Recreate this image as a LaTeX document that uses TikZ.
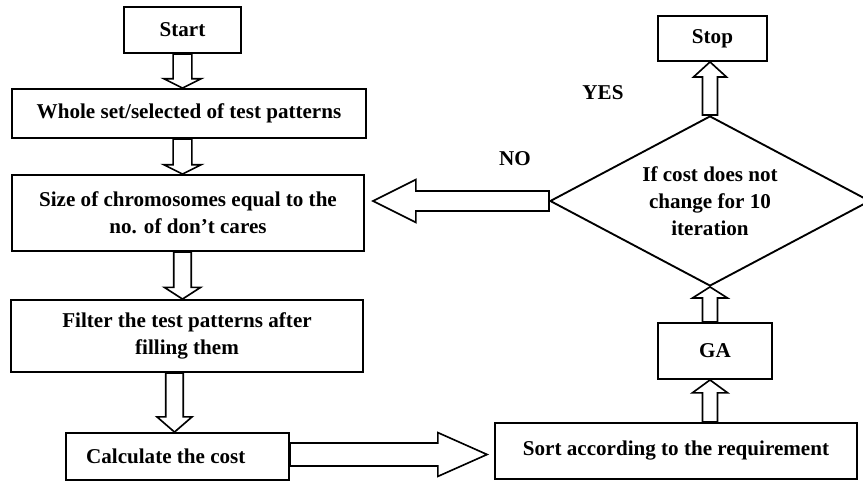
\documentclass[tikz,border=0pt]{standalone}
\usepackage{fontspec}
\setmainfont{Liberation Serif}
\usetikzlibrary{shapes.geometric,calc}

\providecommand{\px}{0.03cm}
\providecommand{\boxthickness}{1.6pt}
\providecommand{\arrowthickness}{1.4pt}

% hollow block arrow: tail, tip, stem half width, head half width, head length
\newcommand{\hollowarrow}[5]{%
  \coordinate (hb) at ($(#2)!#5!(#1)$);
  \draw[hollow_arrow] ($(#1)!#3!90:(#2)$) -- ($(hb)!#3!90:(#2)$)
    -- ($(hb)!#4!90:(#2)$) -- (#2) -- ($(hb)!#4!-90:(#2)$)
    -- ($(hb)!#3!-90:(#2)$) -- ($(#1)!#3!-90:(#2)$) -- cycle;
}

\begin{document}
\begin{tikzpicture}[
    x=\px, y=-\px,
    % Node styles
    process_box/.style={
        rectangle,
        draw=black,
        line width=\boxthickness,
        align=center,
        inner sep=0pt,
        font=\fontsize{18}{23}\selectfont\bfseries
    },
    decision/.style={
        diamond,
        aspect=1.9,
        draw=black,
        line width=\boxthickness,
        align=center,
        inner sep=0pt,
        minimum width={320*\px},
        minimum height={170*\px},
        font=\fontsize{18}{23}\selectfont\bfseries
    },
    % Arrow style
    hollow_arrow/.style={
        line width=\arrowthickness,
        draw=black,
        fill=white,
        line join=miter
    },
    branch_label/.style={
        font=\fontsize{18}{23}\selectfont\bfseries
    }
]
    \useasboundingbox (0,0) rectangle (863,481);

    % ==================== LEFT COLUMN ====================
    \node[process_box, minimum width={117*\px}, minimum height={46*\px}] (start) at (182.5, 30) {Start};
    \node[process_box, minimum width={354*\px}, minimum height={49*\px}] (whole) at (189, 113.5) {Whole set/selected of test patterns};
    \node[process_box, minimum width={352*\px}, minimum height={76*\px}] (size) at (188, 213) {Size of chromosomes equal to the\\no. of don’t cares};
    \node[process_box, minimum width={352*\px}, minimum height={72*\px}] (filter) at (187, 336) {Filter the test patterns after\\filling them};
    \node[process_box, minimum width={223*\px}, minimum height={47*\px}] (calc) at (177.5, 456.5) {Calculate the cost\hspace*{20pt}};

    % ==================== RIGHT COLUMN ====================
    \node[process_box, minimum width={362*\px}, minimum height={56*\px}] (sort) at (676, 451) {Sort according to the requirement};
    \node[process_box, minimum width={114*\px}, minimum height={56*\px}] (ga) at (715, 351) {GA};
    \node[decision] (dec) at (710, 201) {If cost does not\\change for 10\\iteration};
    \node[process_box, minimum width={109*\px}, minimum height={45*\px}] (stop) at (712.5, 38.5) {Stop};

    % Branch labels
    \node[branch_label] (yes) at (603, 93) {YES};
    \node[branch_label] (no) at (515, 159) {NO};

    % ==================== ARROWS ====================
    \coordinate (a1) at (start.south |- whole.north);
    \coordinate (a2) at (start.south |- whole.south);
    \coordinate (a3) at (start.south |- size.north);
    \coordinate (a4) at (start.south |- size.south);
    \coordinate (a5) at (start.south |- filter.north);
    \coordinate (a6) at ($(calc.north |- filter.south)+(-3,0)$);
    \coordinate (a7) at ($(calc.north)+(-3,0)$);
    \coordinate (a8) at ($(calc.east)+(0,-2)$);
    \coordinate (a9) at ($(calc.east -| sort.west)+(-7,-2)$);
    \coordinate (a10) at (dec.south |- sort.north);
    \coordinate (a11) at (dec.south |- ga.south);
    \coordinate (a12) at (dec.south |- ga.north);
    \coordinate (a13) at (dec.north |- stop.south);
    \coordinate (a14) at ($(dec.west -| size.east)+(8,0)$);

    \hollowarrow{start.south}{a1}{8pt}{16pt}{8pt}
    \hollowarrow{a2}{a3}{8pt}{16pt}{8pt}
    \hollowarrow{a4}{a5}{7.5pt}{15.5pt}{10pt}
    \hollowarrow{a6}{a7}{7.5pt}{15pt}{13pt}
    \hollowarrow{a8}{a9}{9.8pt}{18.7pt}{42pt}
    \hollowarrow{a10}{a11}{6.4pt}{15pt}{11pt}
    \hollowarrow{a12}{dec.south}{6.4pt}{15pt}{9.5pt}
    \hollowarrow{dec.north}{a13}{6.4pt}{14pt}{12.8pt}
    \hollowarrow{dec.west}{a14}{8.5pt}{18.3pt}{36.6pt}

\end{tikzpicture}
\end{document}
